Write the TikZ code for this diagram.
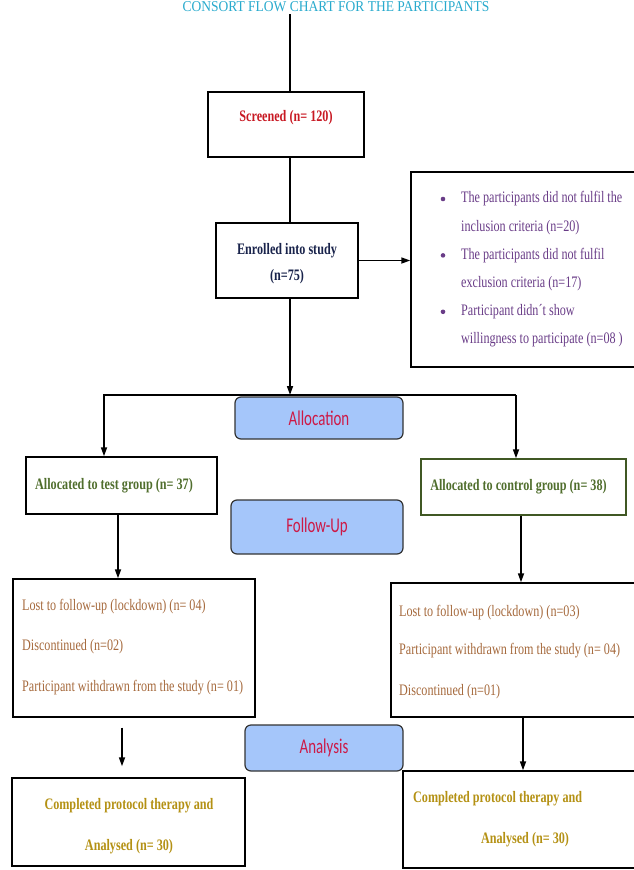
\documentclass[tikz,border=0pt]{standalone}
\usepackage{fontspec}
\setmainfont{Liberation Serif}[FakeStretch=0.76]
\newfontfamily\titlefont{Liberation Serif}[FakeStretch=0.9]
\newfontfamily\phasefont{Carlito}[FakeStretch=0.71]
\usetikzlibrary{arrows.meta}

\definecolor{titlecyan}{RGB}{40,170,205}
\definecolor{screenred}{RGB}{200,25,35}
\definecolor{enrolnavy}{RGB}{25,35,75}
\definecolor{exclpurple}{RGB}{105,60,135}
\definecolor{phasefill}{RGB}{165,198,250}
\definecolor{phasetext}{RGB}{205,25,70}
\definecolor{allocgreen}{RGB}{80,110,45}
\definecolor{lostbrown}{RGB}{165,105,60}
\definecolor{donegold}{RGB}{180,145,20}

\begin{document}
\begin{tikzpicture}[x=1pt,y=-1pt,
    box/.style={draw, line width=1.4pt, inner sep=0pt},
    phase/.style={draw=black!80, fill=phasefill, line width=1.2pt, rounded corners=6pt,
        text=phasetext, font=\phasefont\fontsize{21}{21}\selectfont},
    txt/.style={inner sep=0pt, font=\fontsize{16}{16}\selectfont},
    bold/.style={txt, font=\bfseries\fontsize{16}{16}\selectfont},
    link/.style={line width=1.6pt},
    arr/.style={link, -{Triangle[length=9pt,width=6pt]}}]
    \useasboundingbox (0,0) rectangle (633,870);

    % title
    \node[txt, anchor=base, text=titlecyan, font=\titlefont\fontsize{15}{15}\selectfont] (title) at (336,11.5)
        {CONSORT FLOW CHART FOR THE PARTICIPANTS};

    % boxes
    \node[box, minimum width=156pt, minimum height=65pt] (screened) at (286,124.5) {};
    \node[box, minimum width=142pt, minimum height=75pt] (enrolled) at (287,260.5) {};
    \node[box, minimum width=239pt, minimum height=195pt] (exclusion) at (530.5,269.5) {};
    \node[box, minimum width=191pt, minimum height=57pt] (testalloc) at (121.5,485.5) {};
    \node[box, draw=allocgreen!80!black, minimum width=205pt, minimum height=56pt] (ctrlalloc) at (523.5,487) {};
    \node[box, minimum width=242pt, minimum height=138pt] (testlost) at (134,648) {};
    \node[box, minimum width=259pt, minimum height=134pt] (ctrllost) at (520.5,650) {};
    \node[box, minimum width=233pt, minimum height=88pt] (testdone) at (128.5,822) {};
    \node[box, minimum width=247pt, minimum height=97pt] (ctrldone) at (526.5,819.5) {};

    \node[phase, minimum width=168pt, minimum height=42pt] (allocation) at (319,418) {Allocation};
    \node[phase, minimum width=172pt, minimum height=54pt] (followup) at (317,527) {Follow-Up};
    \node[phase, minimum width=158pt, minimum height=46pt] (analysis) at (324,748) {Analysis};

    % texts
    \node[bold, text=screenred] (screenedtxt) at (286,118) {Screened (n= 120)};
    \node[bold, text=enrolnavy, align=center, font=\bfseries\fontsize{16}{26}\selectfont] (enrolledtxt) at (287,264)
        {Enrolled into study\\(n=75)};
    \foreach \k/\line in {0/The participants did not fulfil the, 1/inclusion criteria (n=20),
        2/The participants did not fulfil, 3/exclusion criteria (n=17),
        4/Participant didn´t show, 5/willingness to participate (n=08 )}
        \node[txt, anchor=west, text=exclpurple] (excl\k) at (461,{199+28.2*\k}) {\line};
    \foreach \k in {0,2,4}
        \fill[exclpurple] (443,{199+28.2*\k}) circle (2.3pt);
    \node[bold, text=allocgreen] (testalloctxt) at (114,486) {Allocated to test group (n= 37)};
    \node[bold, text=allocgreen] (ctrlalloctxt) at (518.5,487) {Allocated to control group (n= 38)};
    \node[txt, anchor=west, text=lostbrown] (testlost1) at (22,607) {Lost to follow-up (lockdown) (n= 04)};
    \node[txt, anchor=west, text=lostbrown] (testlost2) at (22,647) {Discontinued (n=02)};
    \node[txt, anchor=west, text=lostbrown] (testlost3) at (22,688) {Participant withdrawn from the study (n= 01)};
    \node[txt, anchor=west, text=lostbrown] (ctrllost1) at (399,613) {Lost to follow-up (lockdown) (n=03)};
    \node[txt, anchor=west, text=lostbrown] (ctrllost2) at (399,651) {Participant withdrawn from the study (n= 04)};
    \node[txt, anchor=west, text=lostbrown] (ctrllost3) at (399,692) {Discontinued (n=01)};
    \node[bold, text=donegold, align=center, font=\bfseries\fontsize{16}{41}\selectfont] (testdonetxt) at (129,826.5)
        {Completed protocol therapy and\\Analysed (n= 30)};
    \node[bold, anchor=west, text=donegold] (ctrldone1) at (413,799) {Completed protocol therapy and};
    \node[bold, text=donegold] (ctrldone2) at (525,840) {Analysed (n= 30)};

    % connectors
    \coordinate (topend) at (290,14);
    \coordinate (split) at (290,395);
    \coordinate (splitL) at (104,395);
    \coordinate (splitR) at (516,395);
    \coordinate (testx) at (118,0);
    \coordinate (ctrlx) at (521,0);
    \coordinate (testy) at (122,0);
    \coordinate (ctrly) at (523,0);
    \draw[link] (topend) -- (topend |- screened.north);
    \draw[link] (screened.south -| topend) -- (enrolled.north -| topend);
    \draw[arr] (enrolled.east) -- (enrolled.east -| exclusion.west);
    \draw[arr] (enrolled.south -| topend) -- (split);
    \draw[arr] (splitR) -- (splitL) -- (splitL |- testalloc.north);
    \draw[arr] (splitR) -- (splitR |- ctrlalloc.north);
    \draw[arr] (testalloc.south -| testx) -- (testlost.north -| testx);
    \draw[arr] (ctrlalloc.south -| ctrlx) -- (ctrllost.north -| ctrlx);
    \draw[arr, shorten <=10pt, shorten >=11pt] (testlost.south -| testy) -- (testdone.north -| testy);
    \draw[arr] (ctrllost.south -| ctrly) -- (ctrldone.north -| ctrly);
\end{tikzpicture}
\end{document}
